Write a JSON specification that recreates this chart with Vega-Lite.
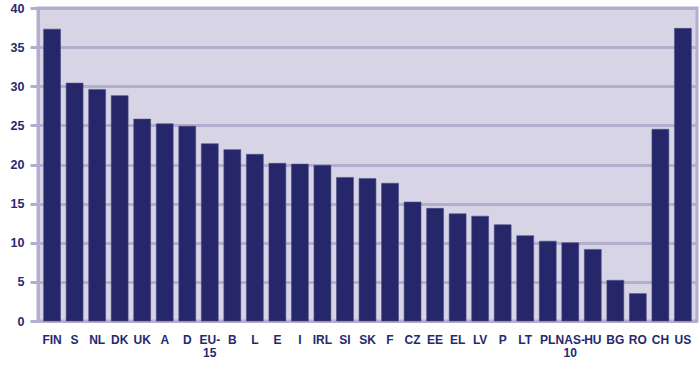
{
  "$schema": "https://vega.github.io/schema/vega-lite/v6.json",
  "autosize": {"type": "none"},
  "padding": {"left": 38, "top": 8, "right": 3, "bottom": 46},
  "width": 659,
  "height": 313,
  "background": "#ffffff",
  "config": {
    "view": {"fill": "#d7d5e5", "stroke": "#b3aecd", "strokeWidth": 3},
    "font": "Liberation Sans"
  },
  "data": {
    "values": [
      {"country": "FIN", "value": 37.3},
      {"country": "S", "value": 30.4},
      {"country": "NL", "value": 29.6},
      {"country": "DK", "value": 28.8},
      {"country": "UK", "value": 25.8},
      {"country": "A", "value": 25.2},
      {"country": "D", "value": 24.9},
      {"country": "EU-|15", "value": 22.65},
      {"country": "B", "value": 21.9},
      {"country": "L", "value": 21.3},
      {"country": "E", "value": 20.15},
      {"country": "I", "value": 20.05},
      {"country": "IRL", "value": 19.9},
      {"country": "SI", "value": 18.35},
      {"country": "SK", "value": 18.2},
      {"country": "F", "value": 17.6},
      {"country": "CZ", "value": 15.2},
      {"country": "EE", "value": 14.4},
      {"country": "EL", "value": 13.7},
      {"country": "LV", "value": 13.4},
      {"country": "P", "value": 12.3},
      {"country": "LT", "value": 10.9},
      {"country": "PL", "value": 10.2},
      {"country": "NAS-|10", "value": 10.0},
      {"country": "HU", "value": 9.15},
      {"country": "BG", "value": 5.2},
      {"country": "RO", "value": 3.5},
      {"country": "CH", "value": 24.5},
      {"country": "US", "value": 37.4}
    ]
  },
  "mark": {"type": "bar", "color": "#25276a", "stroke": "#4a4c85", "strokeWidth": 0.6},
  "encoding": {
    "x": {
      "field": "country",
      "type": "nominal",
      "sort": null,
      "scale": {"paddingInner": 0.25, "paddingOuter": 0.25},
      "axis": {
        "title": null,
        "domain": false,
        "ticks": false,
        "labelAngle": 0,
        "labelPadding": 13,
        "labelFontSize": 12,
        "labelFontWeight": "bold",
        "labelColor": "#262870",
        "labelLineHeight": 13,
        "labelBaseline": "top",
        "labelOverlap": false,
        "labelExpr": "split(datum.label, '|')"
      }
    },
    "y": {
      "field": "value",
      "type": "quantitative",
      "scale": {"domain": [0, 40], "nice": false},
      "axis": {
        "title": null,
        "values": [0, 5, 10, 15, 20, 25, 30, 35, 40],
        "grid": true,
        "gridColor": "#b3aecd",
        "gridWidth": 3,
        "gridOpacity": 1,
        "domain": true,
        "domainColor": "#b3aecd",
        "domainWidth": 3,
        "tickColor": "#b3aecd",
        "tickWidth": 3,
        "tickSize": 8,
        "labelPadding": 6,
        "labelFontSize": 12.5,
        "labelFontWeight": "bold",
        "labelColor": "#262870"
      }
    }
  }
}
